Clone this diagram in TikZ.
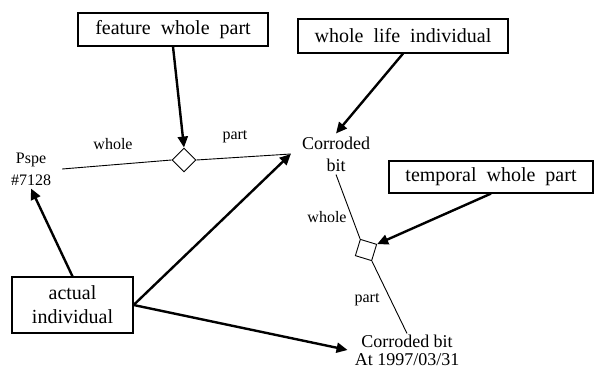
\documentclass[tikz,border=0pt]{standalone}
\usepackage{fontspec}
\setmainfont{Liberation Serif}
\usetikzlibrary{arrows.meta,shapes.geometric}
\begin{document}
\begin{tikzpicture}[x=1pt,y=-1pt,
  box/.style={draw, line width=1.2pt, rectangle, inner sep=0pt, align=center,
    font=\fontsize{20}{24}\selectfont, execute at begin node={\spaceskip=0.5em plus 1pt\relax}},
  obj/.style={align=center, inner ysep=3pt, font=\fontsize{18}{22}\selectfont},
  lbl/.style={inner sep=1pt, font=\fontsize{16}{18}\selectfont},
  rel/.style={line width=0.9pt},
  ind/.style={line width=2.4pt, -{Triangle[length=11pt,width=10pt]}},
]
\useasboundingbox (0,0) rectangle (596,371);
% boxes
\node[box, minimum width=190pt, minimum height=33pt] (fwp) at (173,29.5) {feature whole part};
\node[box, minimum width=210pt, minimum height=34pt] (wli) at (403,36) {whole life individual};
\node[box, minimum width=204pt, minimum height=32pt] (twp) at (491,177) {temporal whole part};
\node[box, minimum width=121pt, minimum height=56pt] (ai) at (72.5,305) {actual\\individual};
% objects
\node[obj, inner xsep=11pt, font=\fontsize{16}{22}\selectfont] (pspe) at (31,169) {Pspe\\\#7128};
\node[obj, inner xsep=11pt] (cb) at (336,154) {Corroded\\bit};
\node[obj, inner xsep=7pt, inner ysep=1pt, font=\fontsize{18}{18}\selectfont] (cba) at (407,350) {Corroded bit\\At 1997/03/31};
% relation nodes
\node[diamond, draw, rel, minimum width=24pt, minimum height=24pt, inner sep=0pt] (d1) at (184,160) {};
\node[rectangle, draw, rel, minimum size=17pt, inner sep=0pt, rotate=-17] (d2) at (366,250) {};
% role labels
\node[lbl] (lw1) at (113,144) {whole};
\node[lbl] (lp1) at (235,137) {part};
\node[lbl] (lw2) at (327,217) {whole};
\node[lbl] (lp2) at (367,300) {part};
% relation lines
\draw[rel] (pspe.east) -- (d1.west);
\draw[rel] (d1.east) -- (cb.west);
\draw[rel] (cb.south) -- (d2.north west);
\draw[rel] (d2.south east) -- (cba.north);
% classification arrows
\draw[ind] (fwp.south) -- (d1.north);
\draw[ind] (wli.south) -- (cb.north);
\draw[ind] (twp.south) -- (d2.north east);
\draw[ind] (ai.north) -- (pspe.south);
\draw[ind] (ai.east) -- (cb.west);
\draw[ind] (ai.east) -- (cba.west);
\end{tikzpicture}
\end{document}
